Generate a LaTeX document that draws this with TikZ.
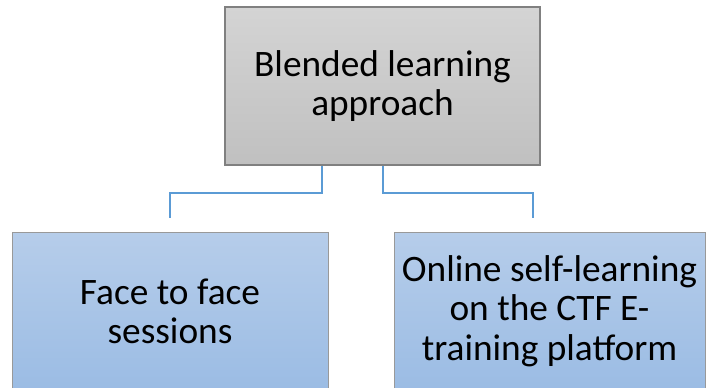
\documentclass[tikz,border=0pt]{standalone}
\usepackage{fontspec}
\setmainfont{Carlito}
\usetikzlibrary{positioning}
\definecolor{boxgrayA}{RGB}{212,212,212}
\definecolor{boxgrayB}{RGB}{192,192,192}
\definecolor{boxblueA}{RGB}{182,205,234}
\definecolor{boxblueB}{RGB}{155,188,228}
\definecolor{linkblue}{RGB}{91,155,213}
\definecolor{edgegray}{RGB}{128,128,128}

\begin{document}
\begin{tikzpicture}[x=0.75pt, y=-0.75pt,
  topbox/.style={draw=edgegray, line width=0.9pt, top color=boxgrayA, bottom color=boxgrayB,
    minimum width=236.25pt, minimum height=118.5pt, align=center, font=\fontsize{28}{29.5}\selectfont},
  subbox/.style={draw=edgegray!80, line width=0.75pt, top color=boxblueA, bottom color=boxblueB,
    minimum height=118.5pt, align=center, font=\fontsize{28}{29.5}\selectfont},
  link/.style={draw=linkblue, line width=1.5pt}]

\useasboundingbox (0,0) rectangle (712,387);
\clip (0,0) rectangle (712,387);

\node[topbox] (approach) at (382.5, 86) {Blended learning\\approach};

\node[subbox, minimum width=237pt] (face) at (170, 311) {Face to face\\sessions};

\node[subbox, minimum width=233.25pt] (online) at (549.5, 311) {Online self-learning\\on the CTF E-\\training platform};

% branches from the top box
\draw[link] ([xshift=-45.75pt]approach.south) -- ++(0,27) -| ([yshift=10.5pt]face.north);
\draw[link] (approach.south) -- ++(0,27) -| ([xshift=-12.4pt, yshift=10.5pt]online.north);

\end{tikzpicture}
\end{document}
